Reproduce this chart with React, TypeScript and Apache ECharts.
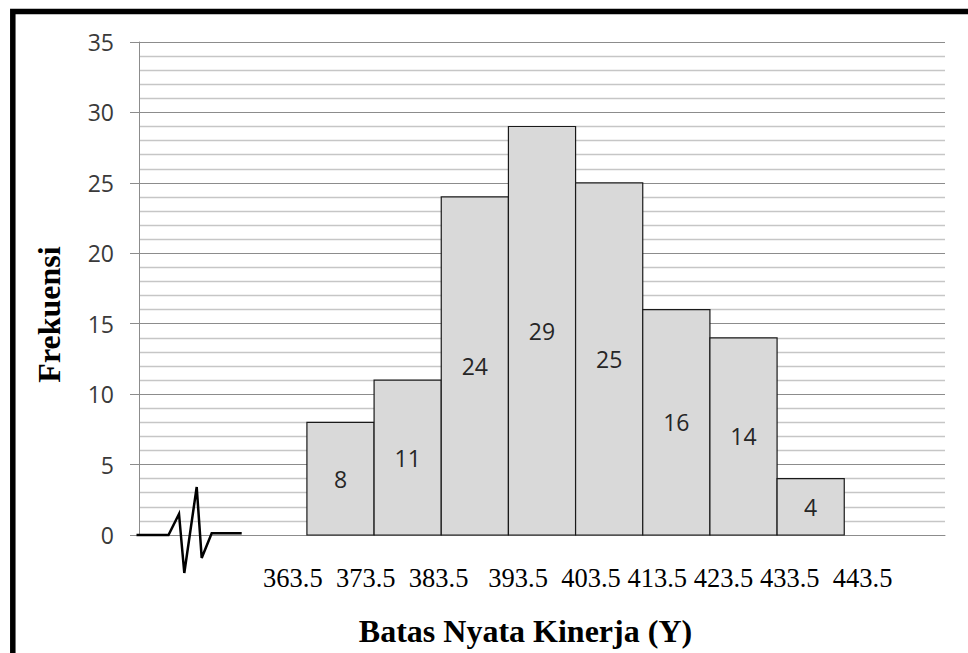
import React, { useEffect, useRef } from "react";
import * as echarts from "echarts";

// Frequency table: real class limits and counts per class
const classLimits = ["363.5", "373.5", "383.5", "393.5", "403.5", "413.5", "423.5", "433.5", "443.5"];
const lowerLimits = [363.5, 373.5, 383.5, 393.5, 403.5, 413.5, 423.5, 433.5];
const classWidth = 10;
const frequencies = [8, 11, 24, 29, 25, 16, 14, 4];

// Spaces typed between the limit labels on the horizontal axis
const labelGaps = [2, 2, 3, 2, 1, 1, 1, 2];

const yTitle = "Frekuensi";
const xTitle = "Batas Nyata Kinerja (Y)";

const sansFont = '"Open Sans", "Liberation Sans", sans-serif';
const serifFont = '"Liberation Serif", "Times New Roman", serif';

function limitsLine(): string {
  let s = classLimits[0];
  for (let i = 1; i < classLimits.length; i++) {
    s += "\u00A0".repeat(labelGaps[i - 1]) + classLimits[i];
  }
  return s;
}

export default function App() {
  const ref = useRef<HTMLDivElement>(null);

  useEffect(() => {
    if (!ref.current) return;
    const chart = echarts.init(ref.current, null, { renderer: "svg" });

    const barData = frequencies.map((f, i) => [lowerLimits[i], lowerLimits[i] + classWidth, f]);

    chart.setOption({
      animation: false,
      backgroundColor: "#ffffff",
      grid: { left: 139, right: 23, top: 42, bottom: 118 },
      xAxis: {
        type: "value",
        min: lowerLimits[0] - 2.5 * classWidth,
        max: lowerLimits[0] + 9.5 * classWidth,
        axisLine: { show: true, onZero: true, lineStyle: { color: "#8c8c8c", width: 1 } },
        axisTick: { show: false },
        axisLabel: { show: false },
        splitLine: { show: false },
      },
      yAxis: {
        type: "value",
        min: 0,
        max: 35,
        interval: 5,
        axisLine: { show: true, lineStyle: { color: "#8c8c8c", width: 1 } },
        axisTick: { show: true, length: 9, lineStyle: { color: "#8c8c8c" } },
        axisLabel: { margin: 25, color: "#3a3a3a", fontFamily: sansFont, fontSize: 23 },
        splitLine: { show: true, lineStyle: { color: "#8c8c8c", width: 1 } },
        minorTick: { show: false, splitNumber: 5 },
        minorSplitLine: { show: true, lineStyle: { color: "#c6c6c6", width: 1.3 } },
      },
      series: [
        {
          type: "custom",
          data: barData,
          encode: { x: [0, 1], y: 2 },
          renderItem: (params: any, api: any) => {
            const p0 = api.coord([api.value(0), 0]);
            const p1 = api.coord([api.value(1), api.value(2)]);
            return {
              type: "rect",
              shape: { x: p0[0], y: p1[1], width: p1[0] - p0[0], height: p0[1] - p1[1] },
              style: { fill: "#d9d9d9", stroke: "#1a1a1a", lineWidth: 1.2 },
              textContent: {
                style: {
                  text: String(api.value(2)),
                  fill: "#262626",
                  fontFamily: sansFont,
                  fontSize: 23,
                },
              },
              textConfig: { position: "inside" },
            };
          },
          z: 3,
        },
      ],
      graphic: [
        // frame around the figure
        {
          type: "rect",
          shape: { x: 12.8, y: 11.5, width: 2000, height: 2000 },
          style: { fill: "none", stroke: "#000000", lineWidth: 5.5 },
          z: 10,
        },
        // axis break symbol
        {
          type: "polyline",
          shape: {
            points: [
              [136.5, 535],
              [168.5, 535],
              [179, 514],
              [184.3, 573],
              [196.7, 487],
              [201.7, 558],
              [211.7, 533.3],
              [241.7, 533.3],
            ],
          },
          style: { stroke: "#000000", lineWidth: 2.5, fill: "none" },
          z: 10,
        },
        // class limits under the bars
        {
          type: "text",
          x: 263,
          y: 578,
          style: {
            text: limitsLine(),
            fontFamily: serifFont,
            fontSize: 26.5,
            fill: "#000000",
            textAlign: "left",
            textVerticalAlign: "middle",
          },
          z: 10,
        },
        {
          type: "text",
          x: 525.5,
          y: 631,
          style: {
            text: xTitle,
            fontFamily: serifFont,
            fontSize: 32,
            fontWeight: "bold",
            fill: "#000000",
            textAlign: "center",
            textVerticalAlign: "middle",
          },
          z: 10,
        },
        {
          type: "text",
          x: 49,
          y: 314.5,
          rotation: Math.PI / 2,
          style: {
            text: yTitle,
            fontFamily: serifFont,
            fontSize: 32,
            fontWeight: "bold",
            fill: "#000000",
            textAlign: "center",
            textVerticalAlign: "middle",
          },
          z: 10,
        },
      ],
    });

    return () => chart.dispose();
  }, []);

  return (
    <div
      ref={ref}
      style={{ position: "fixed", left: 0, top: 0, width: 968, height: 653, background: "#fff" }}
    />
  );
}
